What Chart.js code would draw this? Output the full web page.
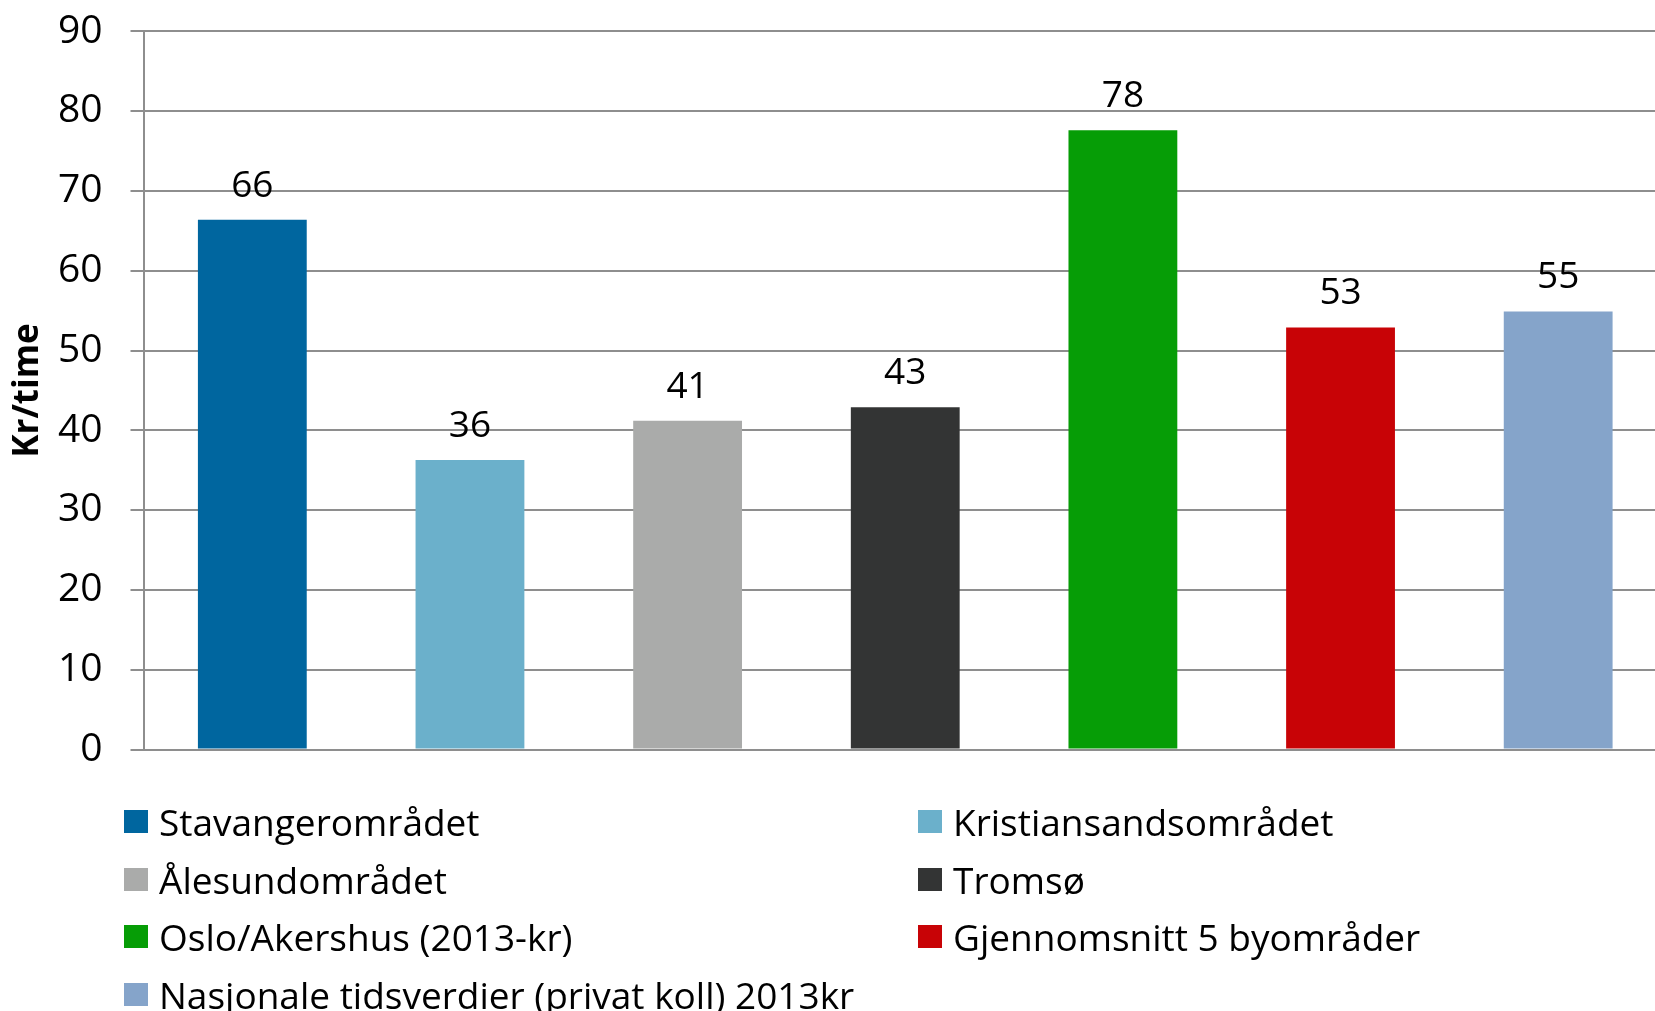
<!DOCTYPE html>
<html>
<head>
<meta charset="utf-8">
<script src="https://cdn.jsdelivr.net/npm/chart.js@4/dist/chart.umd.min.js"></script>
<style>
  html, body { margin: 0; padding: 0; background: #fff; overflow: hidden; }
  body { width: 1655px; height: 1011px; position: relative; font-family: "Open Sans", sans-serif; }
  #wrap { position: absolute; left: 0; top: -20px; width: 1668px; height: 821px; }
  #legend {
    position: absolute; left: 124px; top: 793px;
    display: grid; grid-template-columns: 794px 700px;
    font-size: 37px; color: #000;
  }
  .item { display: flex; align-items: center; height: 57.5px; white-space: nowrap; }
  .box { width: 24px; height: 23px; margin-right: 11px; flex: none; }
</style>
</head>
<body>
<div id="wrap"><canvas id="chart"></canvas></div>
<div id="legend"></div>
<script>
const categories = [
  "Stavangerområdet",
  "Kristiansandsområdet",
  "Ålesundområdet",
  "Tromsø",
  "Oslo/Akershus (2013-kr)",
  "Gjennomsnitt 5 byområder",
  "Nasjonale tidsverdier (privat koll) 2013kr"
];
const values = [66.4, 36.3, 41.2, 42.9, 77.6, 52.9, 54.9];
const colors = ["#00669f", "#6bb0cb", "#aaabaa", "#333434", "#069d06", "#c80306", "#85a4ca"];
const yTicks = [0, 10, 20, 30, 40, 50, 60, 70, 80, 90];

const gridColor = "#8e8e8e";

// value labels above bars (no datalabels plugin available)
const valueLabels = {
  id: "valueLabels",
  afterDatasetsDraw(chart) {
    const ctx = chart.ctx;
    const meta = chart.getDatasetMeta(0);
    ctx.save();
    ctx.font = '37px "Open Sans"';
    ctx.fillStyle = "#000";
    ctx.textAlign = "center";
    ctx.textBaseline = "alphabetic";
    meta.data.forEach((bar, i) => {
      ctx.fillText(values[i].toFixed(0), bar.x, bar.y - 23);
    });
    ctx.restore();
  }
};

new Chart(document.getElementById("chart"), {
  type: "bar",
  data: {
    labels: categories,
    datasets: [{
      data: values,
      backgroundColor: colors,
      borderWidth: 0,
      categoryPercentage: 1,
      barPercentage: 0.5
    }]
  },
  options: {
    responsive: true,
    maintainAspectRatio: false,
    animation: false,
    layout: { padding: { top: 7, right: 1, bottom: 31, left: 0 } },
    plugins: {
      legend: { display: false },
      tooltip: { enabled: false }
    },
    scales: {
      x: { display: false },
      y: {
        min: 0,
        max: 90,
        afterBuildTicks: (scale) => { scale.ticks = yTicks.map(v => ({ value: v })); },
        afterFit: (scale) => { scale.width = 143.5; },
        ticks: {
          font: { family: "Open Sans", size: 39 },
          color: "#000",
          padding: 28
        },
        grid: { color: gridColor, lineWidth: 2, tickLength: 13 },
        border: { display: true, color: gridColor, width: 2 },
        title: {
          display: true,
          text: "Kr/time",
          font: { family: "Open Sans", size: 35, weight: "bold" },
          color: "#000",
          padding: { top: 7, bottom: 0 }
        }
      }
    }
  },
  plugins: [valueLabels]
});

const legend = document.getElementById("legend");
categories.forEach((name, i) => {
  const item = document.createElement("div");
  item.className = "item";
  const box = document.createElement("span");
  box.className = "box";
  box.style.background = colors[i];
  const text = document.createElement("span");
  text.textContent = name;
  item.appendChild(box);
  item.appendChild(text);
  legend.appendChild(item);
});
</script>
</body>
</html>
